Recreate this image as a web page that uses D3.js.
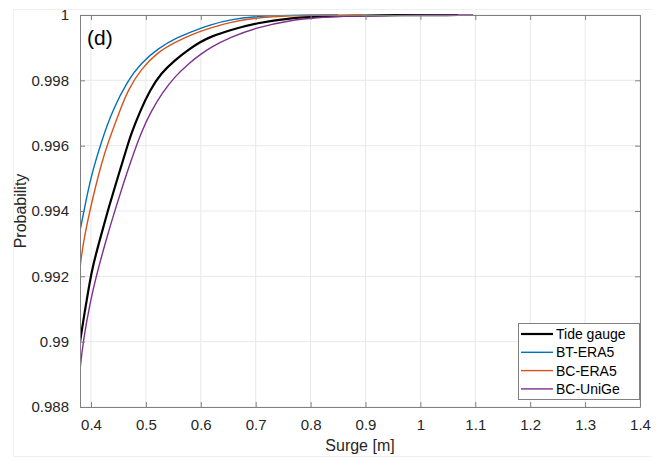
<!DOCTYPE html>
<html><head><meta charset="utf-8">
<script src="https://cdn.jsdelivr.net/npm/d3@7"></script>
<style>body{margin:0;background:#fff}svg{display:block}text{font-family:"Liberation Sans",Arial,sans-serif}</style>
</head><body><svg id="c" width="665" height="461"></svg>
<script>
// ---- data ----
const xTicks = [0.4,0.5,0.6,0.7,0.8,0.9,1.0,1.1,1.2,1.3,1.4];
const xTickLabels = ["0.4","0.5","0.6","0.7","0.8","0.9","1","1.1","1.2","1.3","1.4"];
const yTicks = [0.988,0.990,0.992,0.994,0.996,0.998,1.0];
const yTickLabels = ["0.988","0.99","0.992","0.994","0.996","0.998","1"];
const seriesNames = ["Tide gauge","BT-ERA5","BC-ERA5","BC-UniGe"];
const seriesColors = ["#000000","#0072BD","#D95319","#7E2F8E"];

const tideX = [0.38,0.3891,0.3964,0.4037,0.4183,0.431,0.4456,0.4547,0.4674,0.4729,0.4893,0.5075,0.5275,0.553,0.5767,0.5986,0.6168,0.6532,0.7024,0.7625,0.8172,0.8718,0.95,1.0685];
const tideP = [0.98999,0.99097,0.99170,0.99235,0.99325,0.99403,0.99485,0.99535,0.99605,0.99635,0.99705,0.99770,0.99822,0.99862,0.99893,0.99917,0.99933,0.99954,0.99976,0.99991,0.99995,0.99998,0.999995,1.0];

const btX = [0.38,0.3946,0.4037,0.4183,0.4401,0.4674,0.4911,0.5221,0.5585,0.5913,0.6168,0.6532,0.7024,0.7625,0.85];
const btP = [0.99339,0.99464,0.99526,0.99610,0.99712,0.99801,0.99853,0.99898,0.99933,0.99954,0.99970,0.99986,0.99996,0.999994,1.0];

const bcX = [0.38,0.3855,0.3982,0.4091,0.4183,0.431,0.4529,0.4674,0.4911,0.5221,0.553,0.5822,0.6168,0.6532,0.7024,0.7625,0.8354,0.895];
const bcP = [0.99226,0.99300,0.99403,0.99480,0.99540,0.99610,0.99709,0.99770,0.99835,0.99887,0.99916,0.99940,0.99960,0.99978,0.99992,0.99998,1.0,1.0];

const ugX = [0.38,0.3855,0.3982,0.4091,0.4274,0.4438,0.4583,0.4711,0.4911,0.5093,0.5312,0.553,0.5804,0.5986,0.6168,0.6532,0.7024,0.7625,0.8172,0.8718,0.9629,1.096];
const ugP = [0.98913,0.99000,0.99118,0.99198,0.99311,0.99403,0.99480,0.99545,0.99640,0.99705,0.99765,0.99812,0.99855,0.99878,0.99900,0.99932,0.99962,0.99984,0.99993,0.99997,0.99999,1.0];

// ---- chart ----
const svg = d3.select("#c");
const L=80, R=640, T=15, B=407;
const x = d3.scaleLinear().domain([0.38,1.4]).range([L,R]);
const y = d3.scaleLinear().domain([0.988,1.0]).range([B,T]);

// faint outer frame
svg.append("path").attr("d",`M13.5,456.5 L13.5,9.5 L651.5,9.5 M13.5,456.5 L651.5,456.5`)
  .attr("fill","none").attr("stroke","#efefef");

// grid
const g = svg.append("g");
g.selectAll(".gx").data(xTicks).join("line")
  .attr("x1",d=>x(d)).attr("x2",d=>x(d)).attr("y1",T).attr("y2",B)
  .attr("stroke","#e8e8e8").attr("stroke-width",1);
g.selectAll(".gy").data(yTicks).join("line")
  .attr("x1",L).attr("x2",R).attr("y1",d=>y(d)).attr("y2",d=>y(d))
  .attr("stroke","#e8e8e8").attr("stroke-width",1);

// series
svg.append("clipPath").attr("id","clp").append("rect")
  .attr("x",L).attr("y",T-2).attr("width",R-L).attr("height",B-T+2);
const line = d3.line().x(d=>x(d[0])).y(d=>y(d[1])).curve(d3.curveBasis);
const series = [
  {xs:tideX, ps:tideP, w:2.2},
  {xs:btX, ps:btP, w:1.4},
  {xs:bcX, ps:bcP, w:1.4},
  {xs:ugX, ps:ugP, w:1.4}
];
const lg = svg.append("g").attr("clip-path","url(#clp)");
series.forEach((s,i)=>{
  lg.append("path").datum(s.xs.map((v,j)=>[v,s.ps[j]]))
    .attr("d",line).attr("fill","none")
    .attr("stroke",seriesColors[i]).attr("stroke-width",s.w)
    .attr("stroke-linejoin","round");
});

// axes
const axCol="#808080", txtCol="#262626";
const xb = svg.append("g").attr("transform",`translate(0,${B})`)
  .call(d3.axisBottom(x).tickValues(xTicks).tickFormat((d,i)=>xTickLabels[i]).tickSizeInner(-5).tickSizeOuter(0).tickPadding(12));
const xt = svg.append("g").attr("transform",`translate(0,${T})`)
  .call(d3.axisTop(x).tickValues(xTicks).tickFormat("").tickSizeInner(-5).tickSizeOuter(0));
const yl = svg.append("g").attr("transform",`translate(${L},0)`)
  .call(d3.axisLeft(y).tickValues(yTicks).tickFormat((d,i)=>yTickLabels[i]).tickSizeInner(-5).tickSizeOuter(0).tickPadding(11));
const yr = svg.append("g").attr("transform",`translate(${R},0)`)
  .call(d3.axisRight(y).tickValues(yTicks).tickFormat("").tickSizeInner(-5).tickSizeOuter(0));
[xb,xt,yl,yr].forEach(a=>{
  a.select(".domain").attr("stroke",axCol);
  a.selectAll(".tick line").attr("stroke",axCol);
  a.selectAll(".tick text").attr("fill",txtCol).style("font-size","15px").style("font-family",'"Liberation Sans",Arial,sans-serif');
});

// axis labels
svg.append("text").attr("x",(L+R)/2).attr("y",451).attr("text-anchor","middle")
  .attr("fill",txtCol).style("font-size","16px").text("Surge [m]");
svg.append("text").attr("transform",`translate(26,${(T+B)/2}) rotate(-90)`).attr("text-anchor","middle")
  .attr("fill",txtCol).style("font-size","16px").text("Probability");

// panel label
svg.append("text").attr("x",87).attr("y",45).attr("fill","#000").style("font-size","21px").text("(d)");

// legend
const lgX=518, lgY=323, lgW=121, lgH=76;
svg.append("rect").attr("x",lgX+0.5).attr("y",lgY+0.5).attr("width",lgW).attr("height",lgH)
  .attr("fill","#fff").attr("stroke",axCol);
seriesNames.forEach((n,i)=>{
  const yy = lgY + 11 + i*18.3;
  svg.append("line").attr("x1",lgX+3).attr("x2",lgX+35).attr("y1",yy).attr("y2",yy)
    .attr("stroke",seriesColors[i]).attr("stroke-width",i===0?2.2:1.4);
  svg.append("text").attr("x",lgX+38).attr("y",yy+5).attr("fill","#000")
    .style("font-size","14px").text(n);
});
</script></body></html>
